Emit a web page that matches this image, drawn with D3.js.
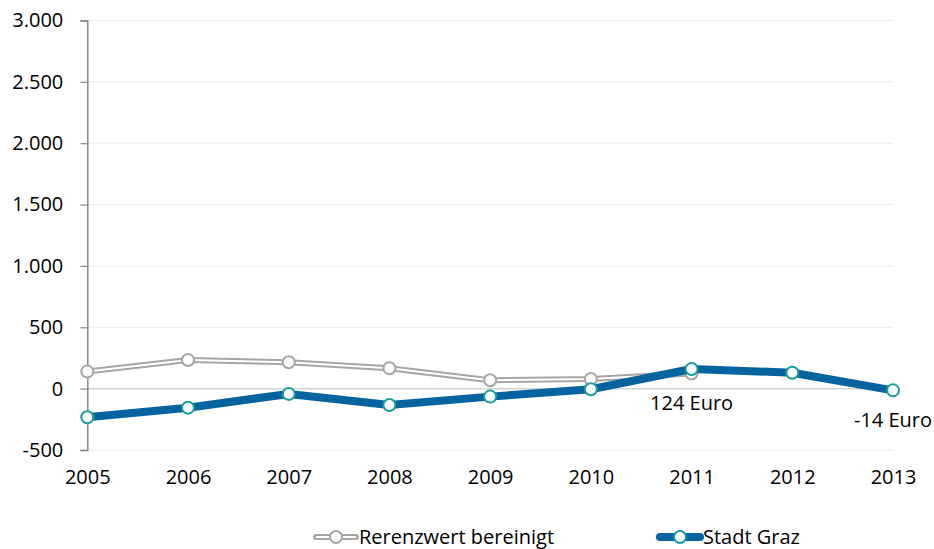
<!DOCTYPE html>
<html><head><meta charset="utf-8">
<script src="https://cdn.jsdelivr.net/npm/d3@7"></script>
<style>body{margin:0;background:#fff}svg{display:block;font-family:"Open Sans",sans-serif}</style>
</head><body><svg id="c" width="934" height="549"></svg>
<script>
const years = [2005,2006,2007,2008,2009,2010,2011,2012,2013];
const referenz = [139,234,215,166,68,79,124];
const graz = [-233,-155,-43,-133,-65,-5,160,130,-14];
const yTicks = [-500,0,500,1000,1500,2000,2500,3000];
const seriesNames = ["Rerenzwert bereinigt","Stadt Graz"];
const annotations = [{year:2011,text:"124 Euro",dy:41},{year:2013,text:"-14 Euro",dy:37}];

const svg = d3.select("#c");
const x = d3.scalePoint().domain(years).range([87.3,893]);
const y = d3.scaleLinear().domain([-500,3000]).range([450,20.5]);
const fmt = v => d3.format(",")(v).replace(/,/g,".").replace("\u2212","-");

// gridlines
svg.append("g").selectAll("line").data(yTicks).join("line")
  .attr("x1",87).attr("x2",893).attr("y1",d=>y(d)).attr("y2",d=>y(d))
  .attr("stroke",d=>d===0?"#d4d4d4":"#ececec").attr("stroke-width",d=>d===0?1.5:1);

// y axis
const ya = svg.append("g").attr("transform","translate(87.3,0)")
  .call(d3.axisLeft(y).tickValues(yTicks).tickFormat(fmt).tickSize(7).tickPadding(17));
ya.select(".domain").attr("stroke","#868686").attr("stroke-width",1.5);
ya.selectAll(".tick line").attr("stroke","#868686").attr("stroke-width",1.2);
ya.selectAll("text").attr("font-size","20px").attr("fill","#000").attr("font-family","Open Sans");

// x labels
const xa = svg.append("g").attr("transform","translate(0,450)")
  .call(d3.axisBottom(x).tickSize(0).tickPadding(20));
xa.select(".domain").remove();
xa.selectAll("text").attr("font-size","20px").attr("fill","#000").attr("font-family","Open Sans");

const line = d3.line().x((d,i)=>x(years[i])).y(d=>y(d));

// Referenz series (compound gray line)
svg.append("path").datum(referenz).attr("d",line).attr("fill","none")
  .attr("stroke","#a6a6a6").attr("stroke-width",6).attr("stroke-linejoin","round");
svg.append("path").datum(referenz).attr("d",line).attr("fill","none")
  .attr("stroke","#fff").attr("stroke-width",2).attr("stroke-linejoin","round");
svg.append("g").selectAll("circle").data(referenz).join("circle")
  .attr("cx",(d,i)=>x(years[i])).attr("cy",d=>y(d)).attr("r",6)
  .attr("fill","#fff").attr("stroke","#a6a6a6").attr("stroke-width",2);

// Graz series
svg.append("path").datum(graz).attr("d",line).attr("fill","none")
  .attr("stroke","#0563a0").attr("stroke-width",8).attr("stroke-linejoin","round");
svg.append("g").selectAll("circle").data(graz).join("circle")
  .attr("cx",(d,i)=>x(years[i])).attr("cy",d=>y(d)).attr("r",6)
  .attr("fill","#fff").attr("stroke","#179e9a").attr("stroke-width",2);

// annotations
svg.append("g").selectAll("text").data(annotations).join("text")
  .attr("x",d=>x(d.year)).attr("y",d=>y(graz[years.indexOf(d.year)])+d.dy)
  .attr("text-anchor","middle").attr("font-size","20px").attr("fill","#000")
  .text(d=>d.text);

// legend
const lg = svg.append("g");
const legendItems = [
  {name:seriesNames[0],x:313,outer:"#a6a6a6",inner:"#fff",w:6,mk:"#a6a6a6"},
  {name:seriesNames[1],x:657,outer:"#0563a0",inner:null,w:8,mk:"#179e9a"}
];
legendItems.forEach(it=>{
  const g = lg.append("g").attr("transform",`translate(${it.x},537)`);
  g.append("line").attr("x1",3).attr("x2",43).attr("stroke",it.outer).attr("stroke-width",it.w).attr("stroke-linecap","round");
  if(it.inner) g.append("line").attr("x1",3).attr("x2",43).attr("stroke",it.inner).attr("stroke-width",2);
  g.append("circle").attr("cx",23).attr("r",6).attr("fill","#fff").attr("stroke",it.mk).attr("stroke-width",2);
  g.append("text").attr("x",46).attr("y",6.5).attr("font-size","20px").attr("fill","#000").text(it.name);
});
</script></body></html>
